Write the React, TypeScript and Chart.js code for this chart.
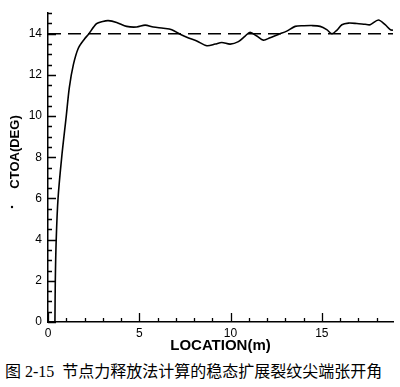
import React, { useEffect, useRef } from "react";
import { Chart, registerables } from "chart.js";

Chart.register(...registerables);

const locations = [0.38, 0.4, 0.45, 0.55, 0.75, 1.0, 1.17, 1.39, 1.66, 2.0, 2.21, 2.66, 3.0, 3.3, 3.76, 4.31, 4.86, 5.32, 5.77, 6.32, 6.78, 7.24, 7.7, 8.15, 8.7, 9.16, 9.52, 9.98, 10.43, 10.8, 11.07, 11.44, 11.8, 12.17, 12.62, 13.08, 13.54, 14.0, 14.45, 14.91, 15.27, 15.55, 15.82, 16.1, 16.46, 16.92, 17.37, 17.65, 18.1, 18.47, 18.75, 18.9];
const ctoaValues = [0, 2, 4, 6, 8, 10, 11.4, 12.5, 13.3, 13.75, 13.97, 14.49, 14.6, 14.64, 14.55, 14.36, 14.33, 14.42, 14.33, 14.27, 14.2, 13.98, 13.8, 13.65, 13.42, 13.5, 13.58, 13.5, 13.62, 13.89, 14.07, 13.89, 13.69, 13.81, 13.97, 14.13, 14.36, 14.39, 14.4, 14.36, 14.2, 14.0, 14.17, 14.44, 14.52, 14.5, 14.46, 14.44, 14.67, 14.44, 14.2, 14.17];
const referenceX = [0, 18.9];
const referenceY = [14, 14];
const xTickLabels = ["0", "5", "10", "15"];
const yTickLabels = ["0", "2", "4", "6", "8", "10", "12", "14"];
const yTitle = "CTOA(DEG)";
const xTitle = "LOCATION(m)";
const caption = "图 2-15\u00a0 节点力释放法计算的稳态扩展裂纹尖端张开角";

const X_MIN = 0, X_MAX = 18.9, Y_MIN = 0, Y_MAX = 15;

const innerTicks = {
  id: "innerTicks",
  afterDatasetsDraw(chart: any) {
    const { ctx, chartArea, scales } = chart;
    const xs = scales.x, ys = scales.y;
    ctx.save();
    ctx.strokeStyle = "#000";
    ctx.lineWidth = 1.3;
    ctx.beginPath();
    for (let v = 0; v <= X_MAX + 1e-6; v += 1) {
      const px = Math.round(xs.getPixelForValue(v)) + 0.5;
      const len = v % 5 === 0 ? 9 : 4;
      ctx.moveTo(px, chartArea.bottom);
      ctx.lineTo(px, chartArea.bottom - len);
    }
    for (let v = 0; v <= Y_MAX + 1e-6; v += 0.5) {
      const py = Math.round(ys.getPixelForValue(v)) + 0.5;
      const len = Math.abs(v % 2) < 1e-6 ? 8 : 4;
      ctx.moveTo(chartArea.left, py);
      ctx.lineTo(chartArea.left + len, py);
    }
    ctx.stroke();
    // rotated y-axis title with the rate dot
    ctx.fillStyle = "#000";
    ctx.font = "bold 13px 'Liberation Sans'";
    ctx.textAlign = "center";
    ctx.textBaseline = "middle";
    ctx.translate(15, 152);
    ctx.rotate(-Math.PI / 2);
    ctx.fillText(yTitle, 0, 0);
    ctx.restore();
    ctx.save();
    ctx.fillStyle = "#000";
    ctx.beginPath();
    ctx.arc(12, 207, 1.2, 0, Math.PI * 2);
    ctx.fill();
    ctx.restore();
  },
};

export default function App() {
  const ref = useRef<HTMLCanvasElement>(null);
  useEffect(() => {
    if (!ref.current) return;
    const chart = new Chart(ref.current, {
      type: "line",
      data: {
        datasets: [
          {
            data: locations.map((x, i) => ({ x, y: ctoaValues[i] })),
            borderColor: "#000",
            borderWidth: 1.6,
            pointRadius: 0,
            tension: 0.3,
            fill: false,
          },
          {
            data: referenceX.map((x, i) => ({ x, y: referenceY[i] })),
            borderColor: "#000",
            borderWidth: 1.6,
            borderDash: [13, 7],
            pointRadius: 0,
            fill: false,
          },
        ],
      },
      plugins: [innerTicks],
      options: {
        animation: false,
        responsive: false,
        layout: { padding: { top: 3, right: 7, left: 0, bottom: 0 } },
        plugins: { legend: { display: false }, tooltip: { enabled: false } },
        scales: {
          x: {
            type: "linear",
            min: X_MIN,
            max: X_MAX,
            grid: { display: false, drawTicks: false },
            border: { display: true, color: "#000", width: 1.5 },
            afterFit: (s: any) => { s.height = 38; },
            ticks: {
              stepSize: 5,
              includeBounds: false,
              padding: 4,
              maxRotation: 0,
              color: "#000",
              font: { family: "Liberation Sans", size: 12 },
              callback: (v: any) => (xTickLabels.includes(String(v)) ? String(v) : ""),
            },
            title: {
              display: true,
              text: xTitle,
              color: "#000",
              font: { family: "Liberation Sans", size: 15, weight: "bold" },
              padding: { top: 0, bottom: 5 },
            },
          },
          y: {
            type: "linear",
            min: Y_MIN,
            max: Y_MAX,
            grid: { display: false, drawTicks: false },
            border: { display: true, color: "#000", width: 1.5 },
            afterFit: (s: any) => { s.width = 48; },
            ticks: {
              stepSize: 2,
              includeBounds: false,
              padding: 6,
              color: "#000",
              font: { family: "Liberation Sans", size: 12 },
              callback: (v: any) => (yTickLabels.includes(String(v)) ? String(v) : ""),
            },
            title: { display: false },
          },
        },
      },
    });
    return () => chart.destroy();
  }, []);
  return (
    <div style={{ position: "fixed", left: 0, top: 0, width: 400, height: 387, background: "#fff" }}>
      <canvas ref={ref} width={400} height={360} style={{ display: "block", width: 400, height: 360 }} />
      <div
        style={{
          position: "absolute",
          left: 5,
          top: 364,
          fontFamily: "'Liberation Serif', 'Noto Sans CJK SC', serif",
          fontSize: 16,
          lineHeight: "16px",
          color: "#000",
          whiteSpace: "nowrap",
        }}
      >
        {caption}
      </div>
    </div>
  );
}
